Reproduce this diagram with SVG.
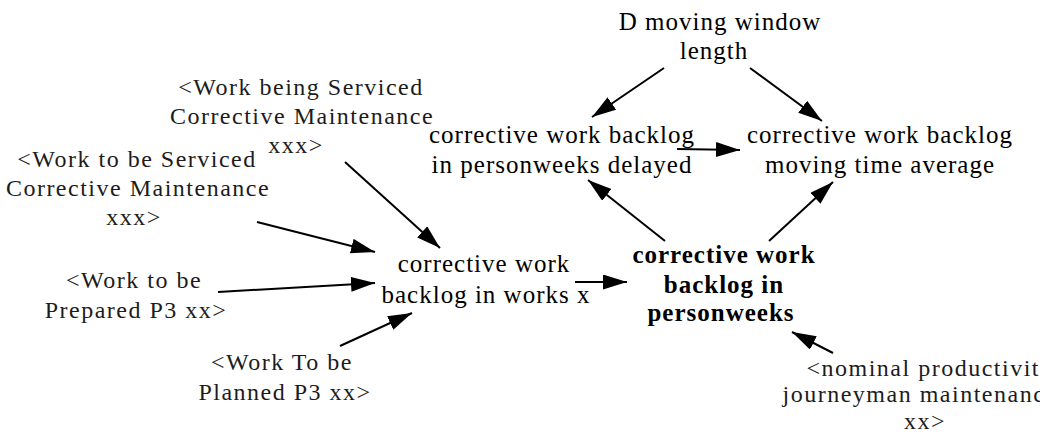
<svg xmlns="http://www.w3.org/2000/svg" width="1040" height="444" viewBox="0 0 1040 444">
  <style>
    text { font-family: "Liberation Serif", "Times New Roman", serif; text-anchor: middle; }
    .var { font-size: 25px; letter-spacing: 1px; fill: #000; }
    .lvl { font-size: 25px; letter-spacing: 1px; font-weight: bold; fill: #000; }
    .shadow { font-size: 24px; letter-spacing: 1.5px; fill: #1c1c1c; }
    .link { stroke: #000; stroke-width: 2; fill: none; marker-end: url(#head); }
  </style>
  <defs>
    <marker id="head" markerUnits="userSpaceOnUse" markerWidth="26" markerHeight="16" refX="24" refY="7.5" orient="auto">
      <path d="M0,0 L24,7.5 L0,15 Z" fill="#000"/>
    </marker>
  </defs>
  <rect width="1040" height="444" fill="#fff"/>

  <!-- causal links -->
  <g id="connectors">
    <line class="link" x1="664" y1="68" x2="592" y2="117"/>
    <line class="link" x1="750" y1="68" x2="822" y2="121"/>
    <line class="link" x1="677" y1="149" x2="740" y2="150"/>
    <line class="link" x1="665" y1="241" x2="588" y2="180"/>
    <line class="link" x1="769" y1="241" x2="833" y2="182"/>
    <line class="link" x1="575" y1="282" x2="627" y2="282"/>
    <line class="link" x1="833" y1="353" x2="792" y2="332"/>
    <line class="link" x1="345" y1="162" x2="440" y2="248"/>
    <line class="link" x1="257" y1="222" x2="375" y2="252"/>
    <line class="link" x1="218" y1="292" x2="375" y2="283"/>
    <line class="link" x1="340" y1="346" x2="412" y2="313"/>
  </g>

  <g id="window-length">
    <text class="var" x="720" y="30">D moving window</text>
    <text class="var" x="714" y="59">length</text>
  </g>

  <g id="backlog-delayed">
    <text class="var" x="562" y="143">corrective work backlog</text>
    <text class="var" x="562" y="173">in personweeks delayed</text>
  </g>

  <g id="backlog-average">
    <text class="var" x="880" y="143">corrective work backlog</text>
    <text class="var" x="880" y="173">moving time average</text>
  </g>

  <g id="backlog-works">
    <text class="var" x="484" y="272">corrective work</text>
    <text class="var" x="486" y="303">backlog in works x</text>
  </g>

  <g id="backlog-personweeks">
    <text class="lvl" x="724" y="263">corrective work</text>
    <text class="lvl" x="724" y="293">backlog in</text>
    <text class="lvl" x="721" y="321">personweeks</text>
  </g>

  <g id="work-being-serviced">
    <text class="shadow" x="301" y="95">&lt;Work being Serviced</text>
    <text class="shadow" x="302" y="124">Corrective Maintenance</text>
    <text class="shadow" x="296" y="153">xxx&gt;</text>
  </g>

  <g id="work-to-be-serviced">
    <text class="shadow" x="137" y="167">&lt;Work to be Serviced</text>
    <text class="shadow" x="138" y="196">Corrective Maintenance</text>
    <text class="shadow" x="134" y="225">xxx&gt;</text>
  </g>

  <g id="work-to-be-prepared">
    <text class="shadow" x="134" y="288">&lt;Work to be</text>
    <text class="shadow" x="136" y="318">Prepared P3 xx&gt;</text>
  </g>

  <g id="work-to-be-planned">
    <text class="shadow" x="282" y="370">&lt;Work To be</text>
    <text class="shadow" x="285" y="400">Planned P3 xx&gt;</text>
  </g>

  <g id="nominal-productivity">
    <text class="shadow" x="930" y="376">&lt;nominal productivity</text>
    <text class="shadow" x="920" y="402">journeyman maintenance</text>
    <text class="shadow" x="925" y="429">xx&gt;</text>
  </g>
</svg>
